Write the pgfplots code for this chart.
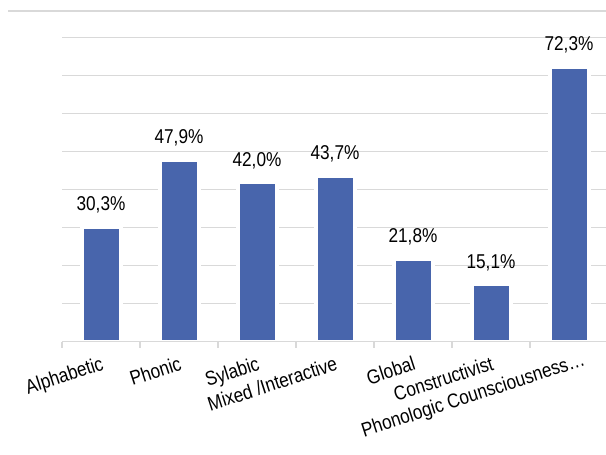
\documentclass[border=0pt]{standalone}
\usepackage{pgfplots}
\pgfplotsset{compat=1.18}
\usepackage{fontspec}
\setmainfont{Liberation Sans}[FakeStretch=0.86]

\definecolor{barblue}{RGB}{72,101,172}
\definecolor{gridgray}{RGB}{217,217,217}
\newcommand{\chartfont}{\fontsize{20}{23}\selectfont}

\begin{document}
\begin{tikzpicture}[x=1pt,y=1pt]
% page frame and the chart area's top border
\useasboundingbox (0,0) rectangle (606,455);
\draw[gridgray, line width=1.2pt] (8,444) -- (606,444);

\begin{axis}[
  at={(62pt,113.3pt)}, anchor=south west,
  scale only axis, width=546pt, height=304pt,
  xmin=-0.5, xmax=6.5, ymin=0, ymax=80,
  axis line style={draw=none},
  /pgf/number format/assume math mode=true,
  % value axis: grid only, no labels
  ytick={10,20,...,80}, yticklabels={},
  ymajorgrids, major grid style={gridgray, line width=1.2pt},
  ytick style={draw=none},
  % category axis: labels at centres, tick marks at the boundaries
  xtick={0,...,6},
  xticklabels={Alphabetic, Phonic, Sylabic, Mixed /Interactive, Global, Constructivist, Phonologic Counsciousness…\hspace*{-14pt}},
  minor xtick={-0.5,0.5,...,6.5},
  xtick pos=bottom, tick align=outside,
  major x tick style={draw=none}, major tick length=0pt,
  minor tick length=6pt,
  minor x tick style={gridgray, line width=1.2pt},
  x tick label style={rotate=18, anchor=north east, font=\chartfont, inner sep=0pt, xshift=-5pt, yshift=-13pt},
  point meta=y,
  nodes near coords={\pgfmathprintnumber[fixed, fixed zerofill, precision=1, use comma]{\pgfplotspointmeta}\%},
  every node near coord/.append style={font=\chartfont, text=black, anchor=base, inner sep=0pt, yshift=16pt},
]
\addplot[ybar, bar width=39pt, fill=barblue, draw=white, line width=4pt]
  coordinates {(0,30.3) (1,47.9) (2,42.0) (3,43.7) (4,21.8) (5,15.1) (6,72.3)};
% category axis line drawn over the bar outlines
\draw[gridgray, line width=1.2pt] (axis cs:-0.5,0) -- (axis cs:6.5,0);
\end{axis}
\end{tikzpicture}
\end{document}
